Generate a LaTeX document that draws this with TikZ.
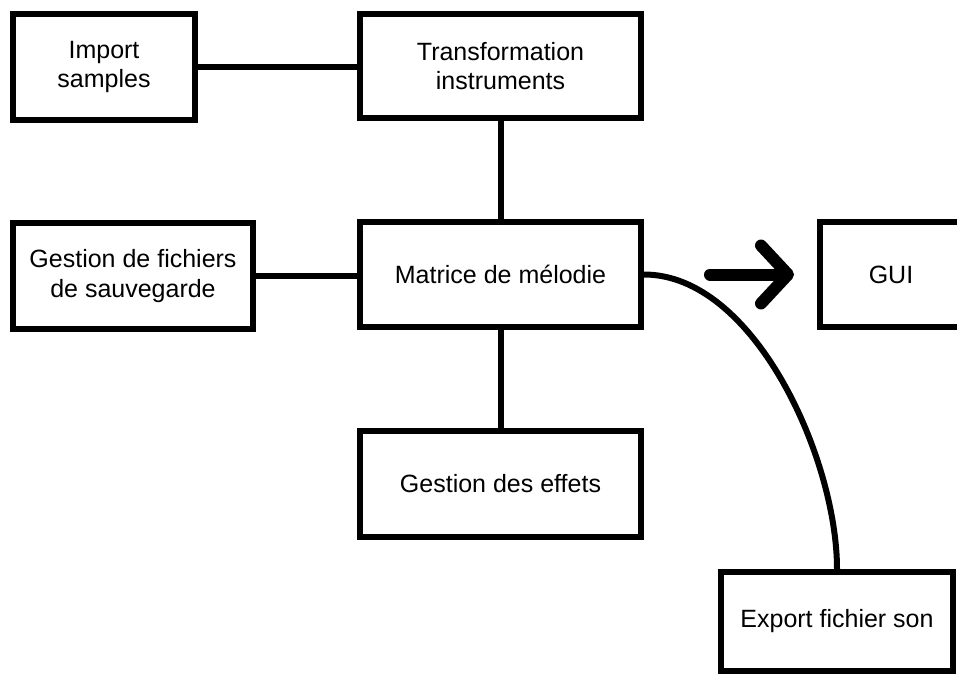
\documentclass[tikz,border=0pt]{standalone}
\usepackage{fontspec}
\setmainfont{Liberation Sans}
\usetikzlibrary{arrows.meta}

\begin{document}
\begin{tikzpicture}[x=1pt, y=-1pt,
      box/.style={draw, line width=6pt, align=center, inner sep=0pt, font=\fontsize{25}{29.5}\selectfont},
      link/.style={line width=6pt},
      big/.style={line width=12pt, line cap=round, -{Straight Barb[length=27pt, width=58pt, line cap=round, line join=round]}},
    ]
    \useasboundingbox (0,0) rectangle (957,674);
    \clip (0,0) rectangle (957,674);
    \node[box, minimum width=182pt, minimum height=106pt] (imp) at (104,67) {Import\\samples};
    \node[box, minimum width=281pt, minimum height=104pt] (trans) at (500.5,66) {Transformation\\instruments};
    \node[box, minimum width=240pt, minimum height=106pt] (fich) at (133,276) {Gestion de fichiers\\de sauvegarde};
    \node[box, minimum width=281pt, minimum height=105pt] (mat) at (500.5,274.5) {Matrice de mélodie};
    \node[box, minimum width=142pt, minimum height=105pt] (gui) at (891,274.5) {GUI};
    \node[box, minimum width=281pt, minimum height=106pt] (eff) at (500.5,484) {Gestion des effets};
    \node[box, minimum width=232pt, minimum height=99pt] (exp) at (837,621.5) {Export fichier son};
    \draw[link] (imp.east) -- (imp.east -| trans.west);
    \draw[link] (trans) -- (mat);
    \draw[link] (fich.east) -- (fich.east -| mat.west);
    \draw[link] (mat) -- (eff);
    \draw[link] (mat.east) to[out=0, in=90, looseness=0.8] (exp.north);
    \draw[big] ([xshift=66pt]mat.east) -- ([xshift=-23pt]gui.west);
  \end{tikzpicture}
\end{document}
